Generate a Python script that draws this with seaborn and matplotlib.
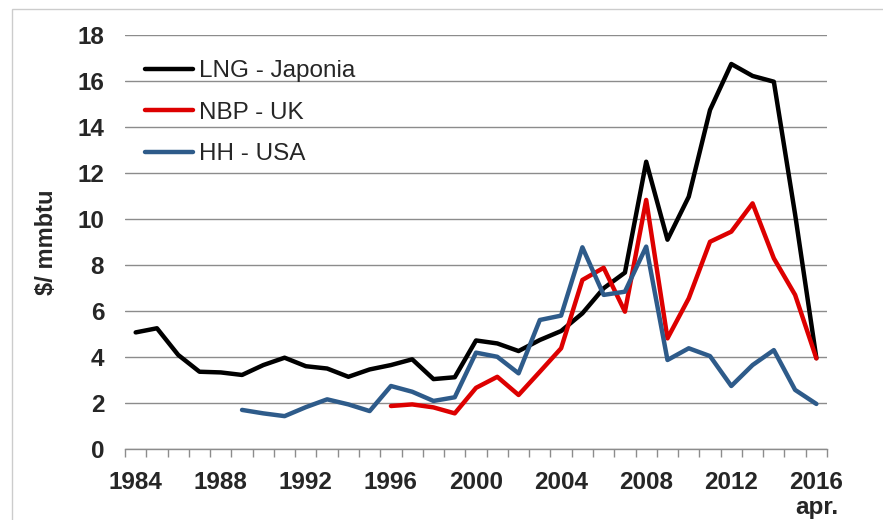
import numpy as np
import pandas as pd
import seaborn as sns
import matplotlib.pyplot as plt
from matplotlib.lines import Line2D
from matplotlib.patches import Rectangle

# dane ($/mmbtu)
years = list(range(1984, 2017))
lng = [5.07, 5.25, 4.09, 3.36, 3.33, 3.22, 3.65, 3.97, 3.6, 3.5, 3.14, 3.46,
       3.65, 3.9, 3.04, 3.12, 4.72, 4.59, 4.26, 4.74, 5.13, 5.9, 6.99, 7.67,
       12.49, 9.1, 10.97, 14.74, 16.74, 16.22, 15.97, 10.2, 3.95]
nbp = [None] * 12 + [1.87, 1.94, 1.81, 1.55, 2.66, 3.14, 2.35, 3.36, 4.38,
                     7.35, 7.88, 5.97, 10.83, 4.81, 6.55, 9.01, 9.45, 10.68,
                     8.29, 6.7, 3.94]
hh = [None] * 5 + [1.70, 1.55, 1.43, 1.82, 2.16, 1.94, 1.65, 2.74, 2.49, 2.09,
                   2.25, 4.19, 4.01, 3.29, 5.61, 5.8, 8.77, 6.7, 6.84, 8.8,
                   3.87, 4.38, 4.04, 2.74, 3.65, 4.3, 2.57, 1.96]

series = ['LNG - Japonia', 'NBP - UK', 'HH - USA']
colors = {'LNG - Japonia': '#000000', 'NBP - UK': '#dd0000', 'HH - USA': '#2e5b8a'}
xlabels = ['1984', '1988', '1992', '1996', '2000', '2004', '2008', '2012', '2016\napr.']

df = pd.DataFrame({'rok': years, series[0]: lng, series[1]: nbp, series[2]: hh})
df = df.melt(id_vars='rok', var_name='seria', value_name='cena').dropna()

sns.set_style('white')
plt.rcParams['font.family'] = ['Liberation Sans', 'DejaVu Sans']

fig = plt.figure(figsize=(8.83, 5.2), dpi=100)
ax = fig.add_axes([0.1416, 0.1365, 0.795, 0.7962])

sns.lineplot(data=df, x='rok', y='cena', hue='seria', hue_order=series,
             palette=colors, linewidth=3.2, errorbar=None, legend=False, ax=ax)

ax.set_xlim(1983.5, 2016.5)
ax.set_ylim(0, 18)
ax.set_yticks(range(0, 19, 2))
ax.yaxis.grid(True, color='#8c8c8c', lw=1)
ax.xaxis.grid(False)
ax.set_axisbelow(True)

ax.set_xticks(range(1984, 2017, 4))
ax.set_xticklabels(xlabels, fontweight='bold', fontsize=17.5, linespacing=1.1)
ax.set_xticks(np.arange(1983.5, 2017, 1), minor=True)
ax.tick_params(axis='x', which='major', length=0, pad=16)
ax.tick_params(axis='x', which='minor', length=6, width=1, color='#8c8c8c',
               direction='out', bottom=True)
ax.tick_params(axis='y', length=0, pad=15, labelsize=17.5)
for t in ax.get_yticklabels():
    t.set_fontweight('bold')

for s in ['left', 'right', 'top']:
    ax.spines[s].set_visible(False)
ax.spines['bottom'].set_color('#8c8c8c')
ax.spines['bottom'].set_linewidth(1)

ax.set_xlabel('')
ax.set_ylabel('$/ mmbtu', fontsize=17, fontweight='bold')
ax.yaxis.set_label_coords(-0.095, 0.5)

handles = [Line2D([], [], color=colors[s], lw=3.2) for s in series]
ax.legend(handles, series, loc='upper left', frameon=False, fontsize=17.5,
          bbox_to_anchor=(145 / 883, 1 - 60 / 520), bbox_transform=fig.transFigure,
          borderpad=0, borderaxespad=0, handlelength=1.97, handletextpad=0.25,
          labelspacing=0.81)

fig.add_artist(Rectangle((12 / 883, -0.1), 1.2, 1 - 9 / 520 + 0.1,
                         transform=fig.transFigure, fill=False,
                         edgecolor='#cccccc', lw=1))

fig.savefig('out.png', dpi=100)
